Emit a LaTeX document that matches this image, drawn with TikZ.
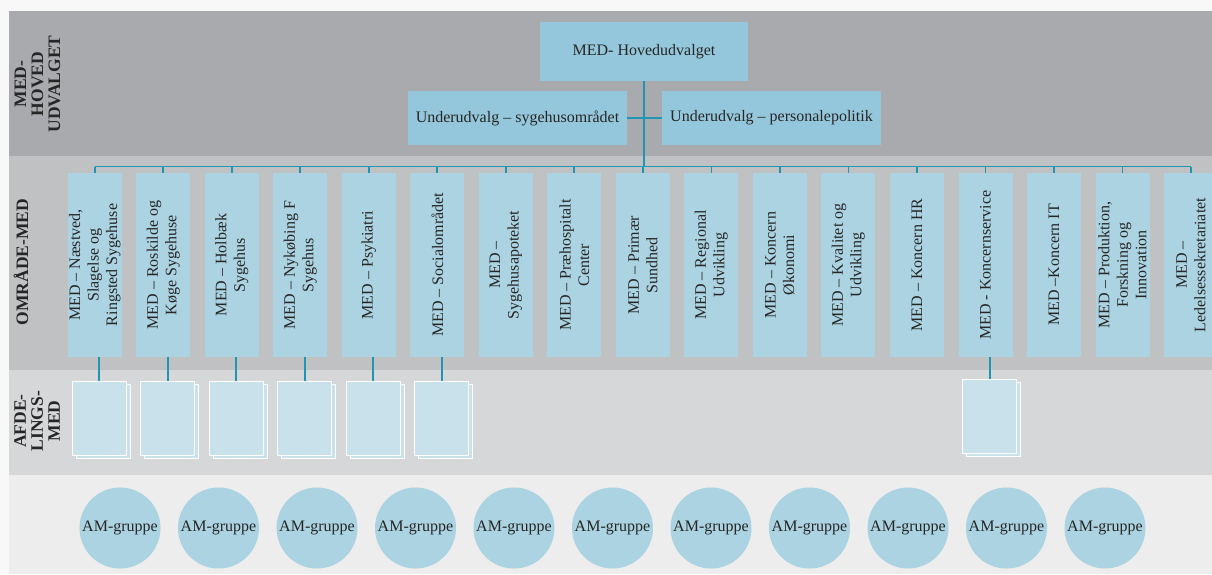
\documentclass[tikz,border=0pt]{standalone}
\usepackage{fontspec}
\setmainfont{Liberation Serif}
\definecolor{bgout}{HTML}{F8F8F8}
\definecolor{bandA}{HTML}{A9AAAD}
\definecolor{bandB}{HTML}{C0C1C3}
\definecolor{bandC}{HTML}{D6D7D9}
\definecolor{bandD}{HTML}{EDEDED}
\definecolor{topblue}{HTML}{94C7DB}
\definecolor{areablue}{HTML}{ABD3E1}
\definecolor{pageblue}{HTML}{C8E1EB}
\definecolor{lineblue}{HTML}{1E96B4}
\definecolor{txt}{HTML}{262626}
\begin{document}
\begin{tikzpicture}[x=1pt,y=-1pt,
  boxfont/.style={font=\fontsize{16}{18.5}\selectfont, text=txt},
  topbox/.style={boxfont, fill=topblue, inner sep=0pt},
  areabox/.style={boxfont, fill=areablue, rotate=90, minimum width=183.4pt, minimum height=54pt, inner sep=0pt, align=center},
  pagefront/.style={fill=pageblue, draw=white, line width=0.9pt, minimum width=54pt, minimum height=74pt, inner sep=0pt},
  pageback/.style={pagefront},
  amcircle/.style={boxfont, circle, fill=areablue, minimum size=81pt, inner sep=0pt},
  bandlabel/.style={font=\bfseries\fontsize{17.5}{17}\selectfont, text=txt, rotate=90, align=center, inner sep=0pt},
  conn/.style={draw=lineblue, line width=1.8pt}
]
\useasboundingbox (0,0) rectangle (1212,574);
\fill[bgout] (0,0) rectangle (1212,574);
\fill[bandA] (9,11) rectangle (1212,156);
\fill[bandB] (9,156) rectangle (1212,370);
\fill[bandC] (9,370) rectangle (1212,475);
\fill[bandD] (9,475) rectangle (1212,574);

% band labels
\node[bandlabel] (lab1) at (37.5,84) {MED-\\HOVED\\UDVALGET};
\node[bandlabel] (lab2) at (21,262) {OMRÅDE-MED};
\node[bandlabel] (lab3) at (37,421) {AFDE-\\LINGS-\\MED};

% top
\node[topbox, minimum width=208pt, minimum height=59pt] (top) at (644,51.5) {MED- Hovedudvalget};
\node[topbox, minimum width=219pt, minimum height=54pt] (u1) at (517.5,118) {Underudvalg – sygehusområdet};
\node[topbox, minimum width=219pt, minimum height=54pt] (u2) at (771.5,118) {Underudvalg – personalepolitik};

% area boxes
\node[areabox] (b1) at (94.7,265) {MED – Næstved,\\Slagelse og\\Ringsted Sygehuse};
\node[areabox] (b2) at (163.2,265) {MED – Roskilde og\\Køge Sygehuse};
\node[areabox] (b3) at (231.7,265) {MED – Holbæk\\Sygehus};
\node[areabox] (b4) at (300.3,265) {MED – Nykøbing F\\Sygehus};
\node[areabox] (b5) at (368.8,265) {MED – Psykiatri};
\node[areabox] (b6) at (437.3,265) {MED – Socialområdet};
\node[areabox] (b7) at (505.8,265) {MED –\\Sygehusapoteket};
\node[areabox] (b8) at (574.3,265) {MED – Præhospitalt\\Center};
\node[areabox] (b9) at (642.9,265) {MED – Primær\\Sundhed};
\node[areabox] (b10) at (711.4,265) {MED – Regional\\Udvikling};
\node[areabox] (b11) at (779.9,265) {MED – Koncern\\Økonomi};
\node[areabox] (b12) at (848.4,265) {MED – Kvalitet og\\Udvikling};
\node[areabox] (b13) at (916.9,265) {MED – Koncern HR};
\node[areabox] (b14) at (985.5,265) {MED - Koncernservice};
\node[areabox] (b15) at (1054,265) {MED –Koncern IT};
\node[areabox] (b16) at (1122.5,265) {MED – Produktion,\\Forskning og\\Innovation};
\node[areabox] (b17) at (1191,265) {MED –\\Ledelsessekretariatet};

% bus
\coordinate (busL) at (94.7,166.5);
\coordinate (busR) at (1191,166.5);
\draw[conn] (busL) -- (busR);
\draw[conn] (top.south) -- (top.south |- busL);
\draw[conn] (u1.east) -- (u2.west);
\foreach \i in {1,...,17} {
  \draw[conn] (b\i.east |- busL) -- (b\i.east);
}

% pages
\foreach \i/\x in {1/99,2/167.7,3/236.3,4/304.7,5/373,6/441.8} {
  \node[pageback] (pb\i) at (\x+4,421.2) {};
  \node[pagefront] (p\i) at (\x,418.7) {};
  \draw[conn] (p\i.north |- b\i.west) -- (p\i.north);
}
\node[pageback] (pb14) at (993.5,419) {};
\node[pagefront] (p14) at (989.7,416.5) {};
\draw[conn] (p14.north |- b14.west) -- (p14.north);

% AM groups
\foreach \i in {1,...,11} {
  \node[amcircle] (c\i) at ({120+98.5*(\i-1)},528) {AM-gruppe};
}
\end{tikzpicture}
\end{document}
